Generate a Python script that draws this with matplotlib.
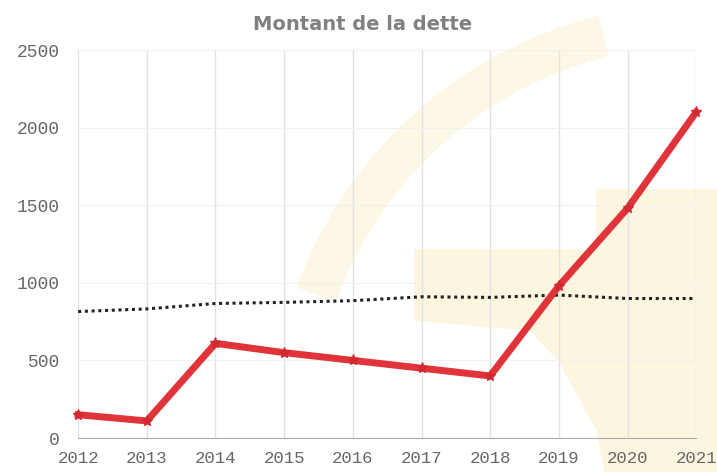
import numpy as np
import matplotlib.pyplot as plt
from matplotlib.patches import Polygon, Wedge
from matplotlib.transforms import Affine2D

years = [2012, 2013, 2014, 2015, 2016, 2017, 2018, 2019, 2020, 2021]
dette = [150, 110, 610, 550, 500, 450, 400, 980, 1480, 2100]
moyenne = [815, 832, 867, 874, 885, 910, 906, 921, 899, 899]
yticks = [0, 500, 1000, 1500, 2000, 2500]


def draw_watermark(fig):
    # faint yellow shapes of the scanned background, in pixels (y down)
    px = Affine2D().scale(0.01, -0.01).translate(0, 4.72) + fig.dpi_scale_trans
    arc = Wedge((7.02, 0.38), 4.30, 104, 160, width=0.40, transform=fig.dpi_scale_trans,
                color='#fdf6df', alpha=0.8, zorder=-2)
    fig.patches.append(arc)
    pts = [(415, 250), (597, 250), (597, 190), (717, 190), (717, 472), (605, 472),
           (597, 430), (560, 362), (530, 330), (415, 320)]
    fig.patches.append(Polygon(pts, closed=True, transform=px,
                               color='#fcf4da', alpha=0.8, zorder=-2))


def plot_dette():
    fig = plt.figure(figsize=(7.17, 4.72), dpi=100)
    draw_watermark(fig)
    ax = fig.add_axes([0.109, 0.072, 0.862, 0.822])
    ax.set_facecolor('none')
    ax.set_zorder(1)

    ax.plot(years, moyenne, color='#222222', linestyle=(0, (1, 1.2)), lw=2.2, zorder=3)
    ax.plot(years, dette, color='#e0333a', lw=5, marker='*', ms=8,
            mec='#d02a30', mfc='#d02a30', zorder=4, clip_on=False)

    ax.set_xlim(2012, 2021)
    ax.set_ylim(0, 2500)
    ax.set_xticks(years)
    ax.set_yticks(yticks)
    ax.grid(axis='x', color='#e2e2e2', lw=1)
    ax.grid(axis='y', color='#f0f0f0', lw=0.8)
    for s in ['top', 'right', 'left']:
        ax.spines[s].set_visible(False)
    ax.spines['bottom'].set_color('#aaaaaa')
    ax.tick_params(length=0, labelsize=13, colors='#666666')
    ax.tick_params(axis='x', labelsize=12.5, pad=9)
    ax.tick_params(axis='y', pad=13)
    for lab in ax.get_xticklabels() + ax.get_yticklabels():
        lab.set_family('Liberation Mono')

    fig.text(0.506, 0.949, 'Montant de la dette', ha='center', va='center',
             fontsize=14, fontweight='bold', color='#808080', family='DejaVu Sans')
    fig.savefig('out.png', dpi=100)


if __name__ == "__main__":
    plot_dette()
